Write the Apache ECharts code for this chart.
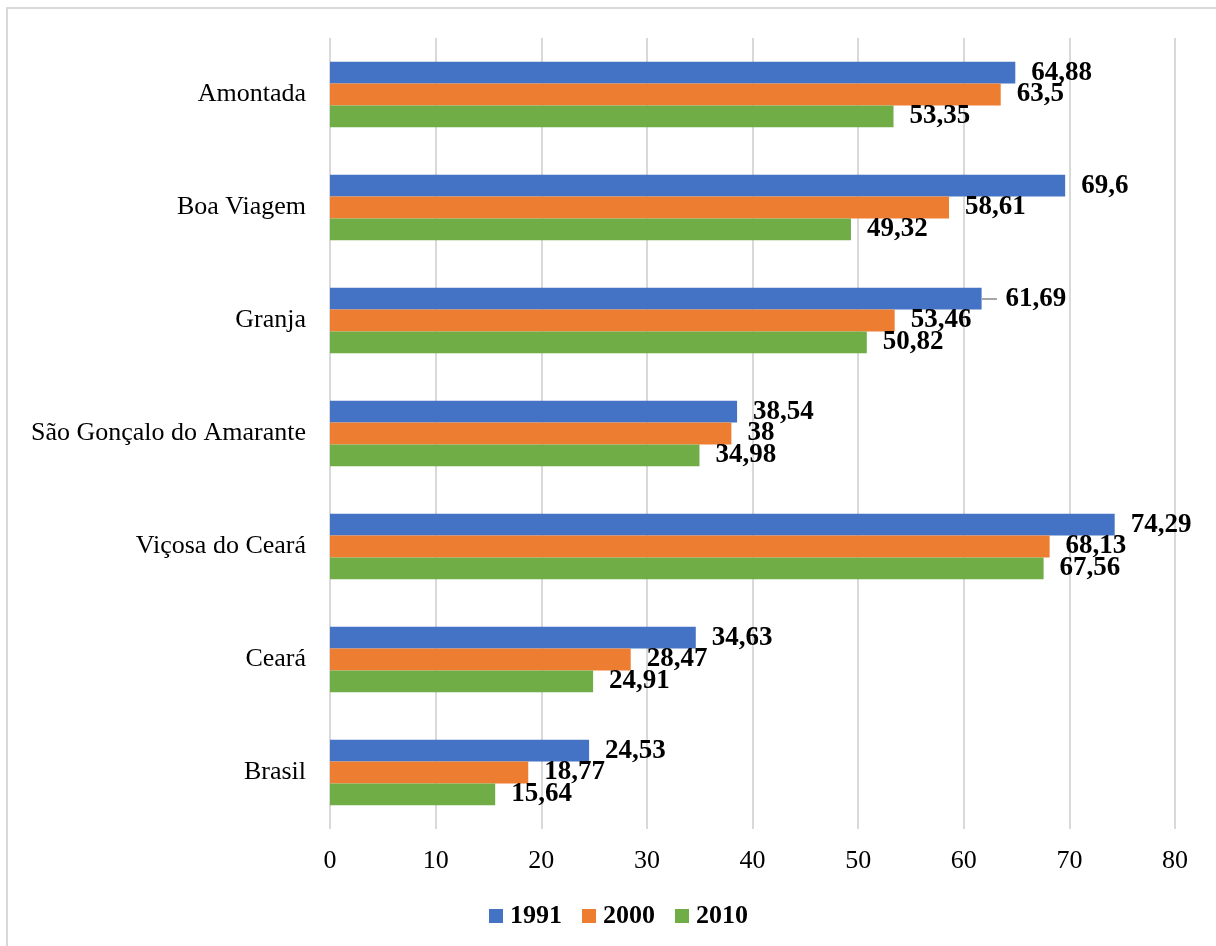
<!DOCTYPE html>
<html>
<head>
<meta charset="utf-8">
<script src="https://cdn.jsdelivr.net/npm/echarts@6/dist/echarts.min.js"></script>
<style>html,body{margin:0;padding:0;background:#fff;}#c{width:1216px;height:946px;}</style>
</head>
<body>
<div id="c"></div>
<script>
const categories = ['Amontada', 'Boa Viagem', 'Granja', 'São Gonçalo do Amarante', 'Viçosa do Ceará', 'Ceará', 'Brasil'];
const seriesNames = ['1991', '2000', '2010'];
const values1991 = [64.88, 69.6, 61.69, 38.54, 74.29, 34.63, 24.53];
const values2000 = [63.5, 58.61, 53.46, 38, 68.13, 28.47, 18.77];
const values2010 = [53.35, 49.32, 50.82, 34.98, 67.56, 24.91, 15.64];
const xTicks = [0, 10, 20, 30, 40, 50, 60, 70, 80];

const FONT = "'Liberation Serif', 'Times New Roman', serif";
const colors = ['#4472C4', '#ED7D31', '#70AD47'];
const allValues = [values1991, values2000, values2010];

const chart = echarts.init(document.getElementById('c'), null, {renderer: 'canvas'});

const series = seriesNames.map((name, i) => ({
  name: name,
  type: 'bar',
  barGap: '0%',
  barCategoryGap: '42%',
  itemStyle: {color: colors[i]},
  label: {
    show: true,
    position: 'right',
    distance: 16,
    fontFamily: FONT,
    fontWeight: 'bold',
    fontSize: 27,
    color: '#000',
    formatter: p => String(p.value).replace('.', ',')
  },
  data: allValues[i].map((v, j) => {
    if (i === 0 && j === 2) {
      return {value: v, label: {distance: 24}};
    }
    return v;
  })
}));

const option = {
  backgroundColor: '#fff',
  animation: false,
  color: colors,
  graphic: [{
    type: 'rect',
    shape: {x: 7, y: 8, width: 1400, height: 1200},
    style: {fill: 'none', stroke: '#d9d9d9', lineWidth: 2},
    silent: true
  }, {
    type: 'line',
    shape: {x1: 982, y1: 299, x2: 997, y2: 299},
    style: {stroke: '#a6a6a6', lineWidth: 2},
    silent: true
  }],
  legend: {
    data: seriesNames,
    left: 484,
    top: 898,
    itemWidth: 14,
    itemHeight: 14,
    itemGap: 20,
    icon: 'rect',
    textStyle: {fontFamily: FONT, fontWeight: 'bold', fontSize: 26, color: '#000', padding: [0, 0, 0, 2]}
  },
  grid: {left: 330, right: 41, top: 38, bottom: 117, containLabel: false},
  xAxis: {
    type: 'value',
    min: xTicks[0],
    max: xTicks[xTicks.length - 1],
    interval: 10,
    axisLine: {show: false},
    axisTick: {show: false},
    axisLabel: {fontFamily: FONT, fontSize: 26, color: '#000', margin: 19},
    splitLine: {show: true, lineStyle: {color: '#d9d9d9', width: 2}}
  },
  yAxis: {
    type: 'category',
    data: categories,
    inverse: true,
    axisLine: {show: false},
    axisTick: {show: false},
    axisLabel: {fontFamily: FONT, fontSize: 26, color: '#000', margin: 24},
    splitLine: {show: false}
  },
  series: series
};
chart.setOption(option);
</script>
</body>
</html>
